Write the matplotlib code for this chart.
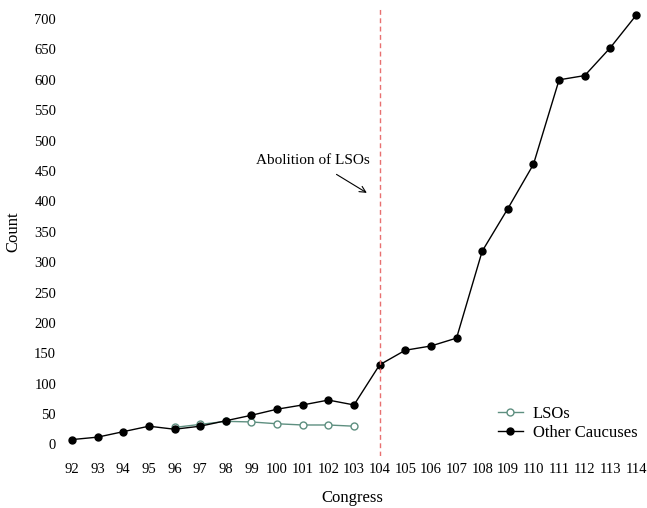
import matplotlib.pyplot as plt

plt.rcParams['font.family'] = ['Liberation Serif', 'DejaVu Serif']

congress = list(range(92, 115))
other = [8, 12, 21, 30, 25, 30, 39, 48, 58, 65, 73, 65, 131,
         155, 162, 175, 318, 388, 461, 600, 607, 653, 706]
lso_congress = list(range(96, 104))
lsos = [28, 33, 38, 37, 34, 32, 32, 30]

lso_color = "#5e8f80"

fig = plt.figure(figsize=(6.47, 5.08), dpi=100)
ax = fig.add_axes([0.0954, 0.1024, 0.8995, 0.884])

ax.plot(lso_congress, lsos, color=lso_color, lw=1, marker="o", ms=5,
        mfc="white", mec=lso_color, mew=1, label="LSOs")
ax.plot(congress, other, color="black", lw=1, marker="o", ms=5,
        label="Other Caucuses")

ax.axvline(104, color="#e87070", ls=(0, (3.5, 2.5)), lw=1)
ax.annotate("Abolition of LSOs", xy=(103.5, 414), xytext=(101.4, 468),
            ha="center", va="center", fontsize=11,
            arrowprops=dict(arrowstyle="->", color="black", lw=0.8,
                            shrinkA=7, shrinkB=0))

ax.set_xlim(91.6, 114.3)
ax.set_ylim(-19, 720)
ax.set_xticks(congress)
ax.set_yticks(range(0, 701, 50))
ax.tick_params(length=0, labelsize=10.5)
ax.tick_params(axis="y", pad=4)
ax.tick_params(axis="x", pad=5)
for s in ax.spines.values():
    s.set_visible(False)

ax.set_xlabel("Congress", fontsize=12, labelpad=10)
ax.set_ylabel("Count", fontsize=12, labelpad=9)

ax.legend(loc="lower right", bbox_to_anchor=(1.015, 0.0), frameon=False,
          fontsize=12, handlelength=1.5, handletextpad=0.6, labelspacing=0.2)

plt.savefig("out.png", dpi=100)
plt.close()
